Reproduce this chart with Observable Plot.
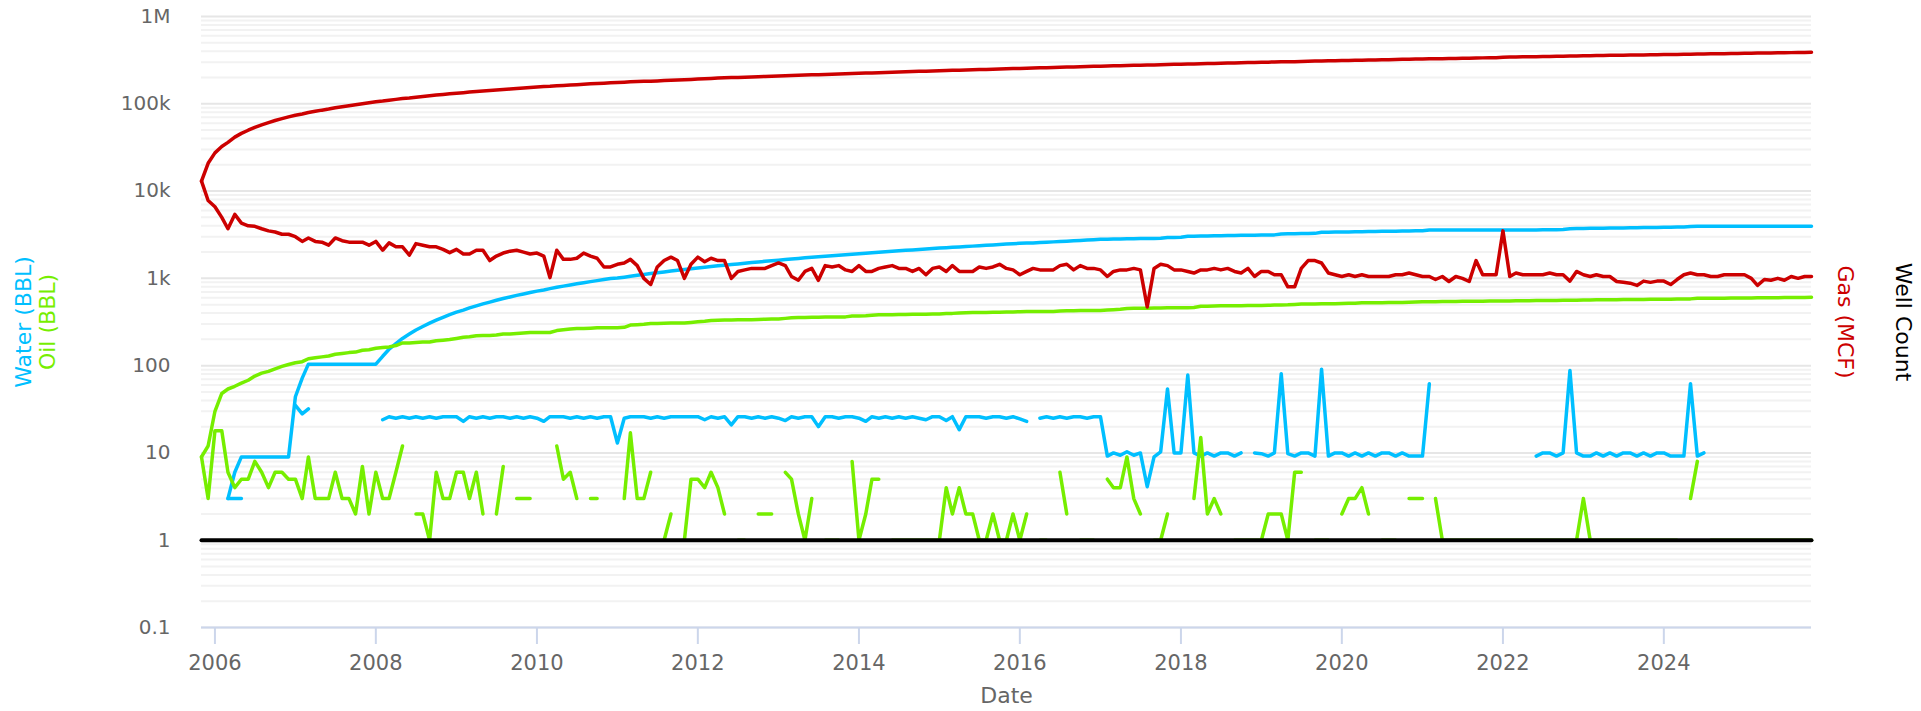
<!DOCTYPE html>
<html>
<head>
<meta charset="utf-8">
<script src="https://cdn.jsdelivr.net/npm/d3@7"></script>
<script src="https://cdn.jsdelivr.net/npm/@observablehq/plot@0.6"></script>
<style>
  html, body { margin: 0; padding: 0; background: #fff; overflow: hidden; }
  #chart svg { display: block; }
</style>
</head>
<body>
<div id="chart"></div>
<script>
// ---------- DATA (monthly, first month 2005-11, last month 2025-11) ----------
const firstMonth = "2005-11";
const lastMonth = "2025-11";

// Gas (MCF) per month
const gasMonthly = [
  13000,7800,6600,5000,3700,5400,4300,4000,3950,3700,
  3500,3400,3200,3200,3000,2650,2900,2650,2600,2400,
  2900,2700,2600,2600,2600,2400,2650,2100,2550,2300,
  2300,1850,2500,2400,2300,2300,2150,1970,2150,1900,
  1900,2100,2100,1600,1800,1950,2050,2100,2000,1900,
  1950,1800,1020,2100,1650,1650,1700,1950,1800,1700,
  1350,1350,1450,1500,1650,1400,1000,850,1350,1600,
  1750,1600,1000,1450,1750,1550,1700,1600,1600,1000,
  1200,1250,1300,1300,1300,1400,1500,1400,1050,950,
  1200,1300,950,1400,1350,1400,1250,1200,1400,1200,
  1200,1300,1350,1400,1300,1300,1200,1300,1100,1300,
  1350,1200,1400,1200,1200,1200,1350,1300,1350,1450,
  1300,1250,1100,1200,1300,1250,1250,1250,1400,1450,
  1250,1400,1300,1300,1250,1050,1200,1250,1250,1300,
  1250,470,1300,1450,1400,1250,1250,1200,1150,1250,
  1250,1300,1250,1300,1200,1150,1300,1050,1200,1200,
  1100,1100,800,800,1300,1600,1600,1500,1150,1100,
  1050,1100,1050,1100,1050,1050,1050,1050,1100,1100,
  1150,1100,1050,1050,970,1050,920,1050,1000,920,
  1600,1100,1100,1100,3500,1050,1150,1100,1100,1100,
  1100,1150,1100,1100,930,1200,1100,1050,1100,1050,
  1050,920,900,880,830,930,900,930,930,850,
  970,1100,1150,1100,1100,1050,1050,1100,1100,1100,
  1100,1000,830,970,950,1000,950,1050,1000,1050,
  1050
];

// Water (BBL) per month (null = no water reported)
const waterMonthly = [
  null,null,null,null,3,3,3,null,null,null,
  null,null,null,null,35,28,32,null,null,null,
  null,null,null,null,null,null,null,24,26,25,
  26,25,26,25,26,25,26,26,26,23,
  26,25,26,25,26,26,25,26,25,26,
  25,23,26,26,26,25,26,25,26,25,
  26,26,13,25,26,26,26,25,26,25,
  26,26,26,26,26,24,26,25,26,21,
  26,26,25,26,25,26,25,23.5,26,25,
  26,26,20,26,26,25,26,26,25,23,
  26,25,26,25,26,25,26,25,24,26,
  26,23.5,26,18.5,26,26,26,25,26,26,
  25,26,24.5,23,null,25,26,25,26,25,
  26,26,25,26,26,9.2,10,9.4,10.3,9.4,
  10,4.1,9,10.3,54,10,10,78,10,9.2,
  10,9.2,10,10,9.2,10,null,10,9.8,9.2,
  10,81,9.8,9.2,10,10,9.2,91,9.2,10,
  10,9.2,10,9.2,10,9.2,10,10,9.2,10,
  9.2,9.2,9.2,62,null,null,null,null,null,null,
  null,null,null,null,null,null,null,null,null,9.2,
  10,10,9.2,10,88,10,9.2,9.2,10,9.2,
  10,9.2,10,10,9.2,10,9.2,10,10,9.2,
  9.2,9.2,62,9.2,10,null,null,null,null,null,
  null,null,null,null,null,null,null,null,null,null,
  null
];

// Oil (BBL) per month (null = no oil reported)
const oilMonthly = [
  9,3,18,18,6,4,5,5,8,6,
  4,6,6,5,5,3,9,3,3,3,
  6,3,3,2,7,2,6,3,3,6,
  12,null,2,2,1,6,3,3,6,6,
  3,6,2,null,2,7,null,3,3,3,
  null,null,null,12,5,6,3,null,3,3,
  null,null,null,3,17,3,3,6,null,1,
  2,null,1,5,5,4,6,4,2,null,
  1,1,null,2,2,2,null,6,5,2,
  1,3,null,1,1,1,null,8,1,2,
  5,5,null,1,1,1,1,1,1,1,
  1,4,2,4,2,2,1,1,2,1,
  1,2,1,2,null,1,1,null,6,2,
  null,1,1,1,null,5,4,4,9,3,
  2,null,1,1,2,null,null,null,3,15,
  2,3,2,null,1,1,1,1,1,2,
  2,2,1,6,6,null,1,1,1,null,
  2,3,3,4,2,null,1,1,1,null,
  3,3,3,null,3,1,1,1,1,1,
  1,1,1,1,1,1,1,1,1,1,
  1,1,1,1,1,1,3,1,1,1,
  1,1,1,1,1,1,1,1,1,1,
  1,null,3,8,null,1,1,1,1,1,
  1,1,1,1,1,1,1,1,1,1,
  1
];

// Well count: 1 well over the whole period (first and last month)
const wellCountMonths = ["2005-11", "2025-11"];
const wellCount = [1, 1];

// Axis ticks
const yTicks = [0.1, 1, 10, 100, 1000, 10000, 100000, 1000000];
const yTickLabels = ["0.1", "1", "10", "100", "1k", "10k", "100k", "1M"];
const minorMultipliers = [2, 3, 4, 5, 6, 7, 8, 9];
const xTickYears = [2006, 2008, 2010, 2012, 2014, 2016, 2018, 2020, 2022, 2024];

// Titles and colours
const waterTitle = "Water (BBL)";
const oilTitle = "Oil (BBL)";
const gasTitle = "Gas (MCF)";
const wellTitle = "Well Count";
const xTitle = "Date";
const waterColor = "#00bfff";
const oilColor = "#76ee00";
const gasColor = "#cc0000";
const wellColor = "#000000";

// ---------- BUILD ----------
const parseMonth = d3.utcParse("%Y-%m");
const start = parseMonth(firstMonth);
const end = parseMonth(lastMonth);
const months = d3.utcMonth.range(start, d3.utcMonth.offset(end, 1));

function cumulative(values) {
  let s = 0;
  return values.map(v => { s += (v ?? 0); return s > 0 ? s : null; });
}
const gasCum = cumulative(gasMonthly);
const waterCum = cumulative(waterMonthly);
const oilCum = cumulative(oilMonthly);

const rows = months.map((date, i) => ({
  date,
  gas: gasMonthly[i], water: waterMonthly[i], oil: oilMonthly[i],
  gasCum: gasCum[i], waterCum: waterCum[i], oilCum: oilCum[i]
}));
const wellRows = wellCountMonths.map((m, i) => ({date: parseMonth(m), count: wellCount[i]}));
const minorTicks = yTicks.slice(0, -1).flatMap(t => minorMultipliers.map(k => t * k));
const xTicks = xTickYears.map(y => new Date(Date.UTC(y, 0, 1)));

const lineStyle = {x: "date", strokeWidth: 3.5, strokeLinejoin: "round", strokeLinecap: "round"};
const titleStyle = {textAnchor: "middle", lineAnchor: "middle", fontSize: 22};

const chart = Plot.plot({
  width: 1921,
  height: 711,
  marginLeft: 201,
  marginRight: 110,
  marginTop: 16,
  marginBottom: 84,
  style: {fontFamily: "'DejaVu Sans', sans-serif", background: "#fff", overflow: "visible"},
  x: {type: "utc", domain: [start, end]},
  y: {type: "log", domain: [0.1, 1e6]},
  marks: [
    Plot.ruleY(minorTicks, {stroke: "#f2f2f2", strokeWidth: 2}),
    Plot.ruleY(yTicks, {stroke: "#e6e6e6", strokeWidth: 2}),
    Plot.lineY(rows, {...lineStyle, y: "waterCum", stroke: waterColor}),
    Plot.lineY(rows, {...lineStyle, y: "water", stroke: waterColor}),
    Plot.lineY(rows, {...lineStyle, y: "oilCum", stroke: oilColor}),
    Plot.lineY(rows, {...lineStyle, y: "oil", stroke: oilColor}),
    Plot.lineY(rows, {...lineStyle, y: "gasCum", stroke: gasColor}),
    Plot.lineY(rows, {...lineStyle, y: "gas", stroke: gasColor}),
    Plot.lineY(wellRows, {x: "date", y: "count", stroke: wellColor, strokeWidth: 4}),
    Plot.ruleY([yTicks[0]], {stroke: "#ccd6eb", strokeWidth: 2}),
    Plot.axisX({ticks: xTicks, tickFormat: "%Y", tickSize: 17, tickPadding: 11,
      stroke: "#ccd6eb", strokeWidth: 2, fill: "#666", fontSize: 21, label: null}),
    Plot.axisY({ticks: yTicks, tickFormat: d => yTickLabels[yTicks.indexOf(d)], tickSize: 0,
      tickPadding: 31, fill: "#666", fontSize: 20, label: null}),
    Plot.text([xTitle], {frameAnchor: "bottom", dy: 75, fill: "#666", fontSize: 22}),
    Plot.text([waterTitle], {...titleStyle, frameAnchor: "left", dx: -178, rotate: -90, fill: waterColor}),
    Plot.text([oilTitle], {...titleStyle, frameAnchor: "left", dx: -154, rotate: -90, fill: oilColor}),
    Plot.text([gasTitle], {...titleStyle, frameAnchor: "right", dx: 34, rotate: 90, fill: gasColor}),
    Plot.text([wellTitle], {...titleStyle, frameAnchor: "right", dx: 92, rotate: 90, fill: wellColor})
  ]
});
document.getElementById("chart").appendChild(chart);
</script>
</body>
</html>
